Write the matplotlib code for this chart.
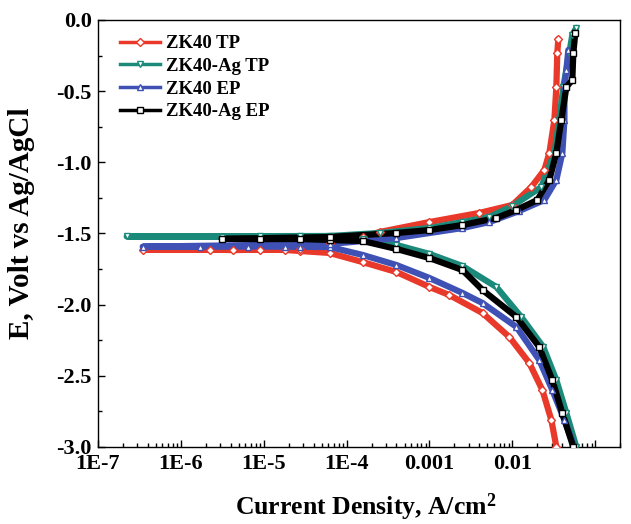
import matplotlib
matplotlib.use("Agg")
import matplotlib.pyplot as plt
from matplotlib.lines import Line2D
from matplotlib.ticker import FixedLocator, FixedFormatter, LogLocator, MultipleLocator, NullFormatter

plt.rcParams["font.family"] = ["Liberation Serif", "DejaVu Serif"]
plt.rcParams["font.weight"] = "bold"
plt.rcParams["mathtext.fontset"] = "custom"
plt.rcParams["mathtext.rm"] = "Liberation Serif:bold"
plt.rcParams["mathtext.bf"] = "Liberation Serif:bold"
plt.rcParams["mathtext.it"] = "Liberation Serif:bold"

# --- data (current density A/cm2, potential V) ---
labels = ["ZK40 TP", "ZK40-Ag TP", "ZK40 EP", "ZK40-Ag EP"]
colors = ["#E8392A", "#1B8A7A", "#3F51B5", "#000000"]
markers = ["D", "v", "^", "s"]

# ZK40 TP
tp_i = [3.39e-2, 2.95e-2, 2.30e-2, 1.60e-2, 9.21e-3, 4.36e-3, 1.74e-3, 1.0e-3, 4.0e-4,
        1.56e-4, 6.24e-5, 2.72e-5, 1.79e-5, 8.95e-6, 4.24e-6, 2.23e-6, 3.48e-7,
        2.72e-5, 6.24e-5, 1.56e-4, 2.50e-4, 1.0e-3, 4.0e-3, 1.0e-2, 1.69e-2, 2.43e-2,
        2.79e-2, 3.21e-2, 3.39e-2, 3.48e-2, 3.58e-2]
tp_e = [-3.000, -2.811, -2.600, -2.410, -2.228, -2.059, -1.933, -1.876, -1.771,
        -1.701, -1.637, -1.623, -1.616, -1.614, -1.617, -1.613, -1.615,
        -1.609, -1.567, -1.525, -1.490, -1.420, -1.356, -1.300, -1.174, -1.054,
        -0.935, -0.703, -0.471, -0.232, -0.134]

# ZK40-Ag TP
agtp_i = [5.90e-2, 4.48e-2, 3.39e-2, 2.36e-2, 1.28e-2, 6.41e-3, 2.50e-3, 1.0e-3, 4.0e-4,
          1.56e-4, 6.24e-5, 2.72e-5, 8.95e-6, 3.12e-6, 2.23e-7,
          6.24e-5, 2.50e-4, 1.0e-3, 2.50e-3, 5.28e-3, 1.0e-2, 2.23e-2, 3.21e-2,
          3.68e-2, 4.11e-2, 4.86e-2, 5.28e-2, 5.90e-2]
agtp_e = [-3.000, -2.762, -2.530, -2.298, -2.087, -1.876, -1.729, -1.644, -1.581,
          -1.539, -1.525, -1.521, -1.520, -1.522, -1.521,
          -1.518, -1.497, -1.462, -1.420, -1.384, -1.307, -1.174, -0.935,
          -0.703, -0.471, -0.232, -0.105, -0.056]

# ZK40 EP
ep_i = [5.58e-2, 4.24e-2, 3.03e-2, 2.11e-2, 1.12e-2, 4.36e-3, 2.50e-3, 1.0e-3, 4.0e-4,
        1.56e-4, 6.24e-5, 2.72e-5, 1.79e-5, 6.41e-6, 1.69e-6, 3.48e-7,
        6.24e-5, 4.0e-4, 2.50e-3, 5.28e-3, 1.21e-2, 2.43e-2, 3.39e-2, 4.0e-2,
        4.24e-2, 4.24e-2, 4.48e-2, 4.73e-2]
ep_e = [-3.000, -2.811, -2.600, -2.389, -2.157, -1.989, -1.918, -1.813, -1.722,
        -1.651, -1.595, -1.594, -1.593, -1.592, -1.594, -1.593,
        -1.574, -1.532, -1.462, -1.420, -1.342, -1.265, -1.124, -0.935,
        -0.703, -0.471, -0.351, -0.211]

# ZK40-Ag EP
agep_i = [5.43e-2, 4.0e-2, 3.03e-2, 2.11e-2, 1.12e-2, 4.36e-3, 2.50e-3, 1.0e-3, 4.0e-4,
          1.56e-4, 6.24e-5, 2.72e-5, 8.95e-6, 3.12e-6,
          6.24e-5, 4.0e-4, 1.0e-3, 2.50e-3, 6.41e-3, 1.12e-2, 2.0e-2, 2.79e-2,
          3.39e-2, 3.89e-2, 4.48e-2, 5.28e-2, 5.43e-2, 5.74e-2]
agep_e = [-3.000, -2.762, -2.530, -2.298, -2.087, -1.897, -1.757, -1.673, -1.609,
          -1.553, -1.546, -1.539, -1.540, -1.538,
          -1.525, -1.497, -1.476, -1.441, -1.391, -1.335, -1.265, -1.124,
          -0.935, -0.703, -0.471, -0.422, -0.232, -0.091]

series = [(tp_i, tp_e), (agtp_i, agtp_e), (ep_i, ep_e), (agep_i, agep_e)]

xticks = [1e-7, 1e-6, 1e-5, 1e-4, 1e-3, 1e-2, 1e-1]
xticklabels = ["1E-7", "1E-6", "1E-5", "1E-4", "0.001", "0.01", ""]

fig = plt.figure(figsize=(6.31, 5.24), dpi=100)
ax = fig.add_axes([0.155, 0.147, 0.828, 0.815])

for (cur, pot), c, m in zip(series, colors, markers):
    ax.plot(cur, pot, color=c, lw=4.5, solid_capstyle="round", solid_joinstyle="round", zorder=2)
    ax.plot(cur, pot, ls="none", marker=m, ms=4.5, mfc="white", mec=c, mew=1.0, zorder=3)

ax.set_xscale("log")
ax.set_xlim(1e-7, 0.2)
ax.set_ylim(-3.0, 0.0)

ax.xaxis.set_major_locator(FixedLocator(xticks))
ax.xaxis.set_major_formatter(FixedFormatter(xticklabels))
ax.xaxis.set_minor_locator(LogLocator(base=10, subs=range(2, 10), numticks=20))
ax.xaxis.set_minor_formatter(NullFormatter())
ax.yaxis.set_major_locator(MultipleLocator(0.5))
ax.yaxis.set_minor_locator(MultipleLocator(0.25))
ax.yaxis.set_major_formatter(plt.FuncFormatter(lambda v, p: f"{v:.1f}"))

ax.tick_params(which="both", direction="in", top=False, right=False, width=1.0)
ax.tick_params(which="major", length=5, labelsize=16)
ax.tick_params(axis="x", which="major", pad=5)
ax.tick_params(axis="y", which="major", pad=4.5)
ax.tick_params(which="minor", length=3)
for sp in ax.spines.values():
    sp.set_linewidth(1.0)

ax.set_xlabel(r"Current Density, A/cm$^{2}$", fontsize=18.5, fontweight="bold")
ax.set_ylabel("E, Volt vs Ag/AgCl", fontsize=21, fontweight="bold")
ax.xaxis.set_label_coords(0.513, -0.104)
ax.yaxis.set_label_coords(-0.121, 0.525)

handles = [Line2D([], [], color=c, lw=2.5, marker=m, ms=4.5, mfc="white", mec=c, mew=1.0)
           for c, m in zip(colors, markers)]
ax.legend(handles, labels, loc="upper left", bbox_to_anchor=(0.028, 0.982), frameon=False,
          handlelength=2.15, handletextpad=0.32, labelspacing=0.3, borderaxespad=0.0,
          prop={"weight": "bold", "size": 13.5})

fig.savefig("out.png", dpi=100)
